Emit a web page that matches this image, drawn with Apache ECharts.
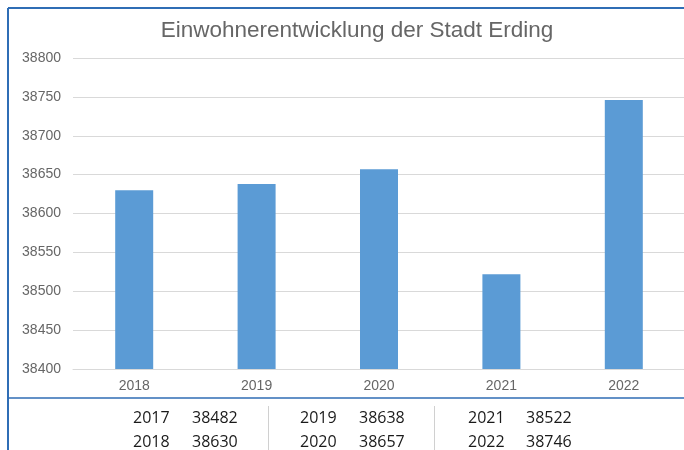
<!DOCTYPE html>
<html><head><meta charset="utf-8">
<script src="https://cdn.jsdelivr.net/npm/echarts@6/dist/echarts.min.js"></script>
<style>html,body{margin:0;padding:0;background:#fff}#c{width:684px;height:450px}</style>
</head><body><div id="c"></div>
<script>
const titleText = 'Einwohnerentwicklung der Stadt Erding';
const categories = ['2018', '2019', '2020', '2021', '2022'];
const values = [38630, 38638, 38657, 38522, 38746];
const yTicks = { min: 38400, max: 38800, interval: 50 };
const tableYears = ['2017', '2018', '2019', '2020', '2021', '2022'];
const tableValues = [38482, 38630, 38638, 38657, 38522, 38746];

const chart = echarts.init(document.getElementById('c'));
const font = '"Liberation Sans", Arial, sans-serif';
const tfont = '"Open Sans", "Liberation Sans", sans-serif';
const blue = '#2f6db5';

const graphics = [
  { type: 'line', shape: { x1: 8, y1: 8, x2: 684, y2: 8 }, style: { stroke: blue, lineWidth: 2 } },
  { type: 'line', shape: { x1: 8, y1: 8, x2: 8, y2: 450 }, style: { stroke: blue, lineWidth: 2 } },
  { type: 'line', shape: { x1: 8, y1: 398, x2: 684, y2: 398 }, style: { stroke: blue, lineWidth: 1.5 } },
  { type: 'line', shape: { x1: 268.5, y1: 406, x2: 268.5, y2: 450 }, style: { stroke: '#d0d0d0', lineWidth: 1 } },
  { type: 'line', shape: { x1: 434.5, y1: 406, x2: 434.5, y2: 450 }, style: { stroke: '#d0d0d0', lineWidth: 1 } }
];
const colX = [[133, 192], [300, 359], [468, 526]];
const rowY = [418, 442];
tableYears.forEach((yr, i) => {
  const col = Math.floor(i / 2), row = i % 2;
  graphics.push({ type: 'text', x: colX[col][0], y: rowY[row],
    style: { text: yr, font: '16px ' + tfont, fill: '#1a1a1a', verticalAlign: 'middle' } });
  graphics.push({ type: 'text', x: colX[col][1], y: rowY[row],
    style: { text: String(tableValues[i]), font: '16px ' + tfont, fill: '#1a1a1a', verticalAlign: 'middle' } });
});

chart.setOption({
  animation: false,
  backgroundColor: '#fff',
  title: { text: titleText, left: 352, top: 14, textAlign: 'center',
    textStyle: { fontFamily: font, fontSize: 22.5, fontWeight: 'normal', color: '#666666' } },
  grid: { left: 73, right: -1, top: 58, bottom: 81, containLabel: false, outerBoundsMode: 'none' },
  xAxis: { type: 'category', data: categories,
    axisLine: { lineStyle: { color: '#d9d9d9' } }, axisTick: { show: false },
    axisLabel: { color: '#666666', fontFamily: font, fontSize: 14, margin: 10 } },
  yAxis: { type: 'value', min: yTicks.min, max: yTicks.max, interval: yTicks.interval,
    axisLine: { show: false }, axisTick: { show: false },
    splitLine: { lineStyle: { color: '#d9d9d9' } },
    axisLabel: { color: '#666666', fontFamily: font, fontSize: 14, margin: 12, formatter: v => String(v) } },
  series: [{ type: 'bar', data: values, barWidth: 38, itemStyle: { color: '#5b9bd5' } }],
  graphic: graphics
});
</script></body></html>
